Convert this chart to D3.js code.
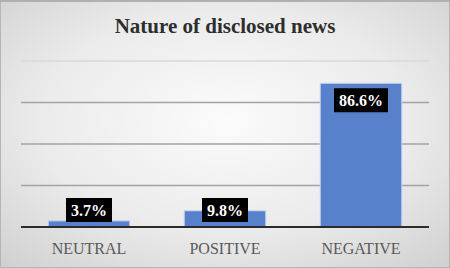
<!DOCTYPE html>
<html>
<head>
<meta charset="utf-8">
<script src="https://cdn.jsdelivr.net/npm/d3@7"></script>
<style>
  html, body { margin: 0; padding: 0; background: #fff; }
  svg { display: block; }
  svg text { font-family: 'Liberation Serif', 'Times New Roman', serif; }
</style>
</head>
<body>
<div id="chart"></div>
<script>
// Chart data
const categories = ['NEUTRAL', 'POSITIVE', 'NEGATIVE'];
const shares = [3.7, 9.8, 86.6];
const yTicks = [0, 25, 50, 75, 100];

const W = 450, H = 268;
const margin = {top: 61, right: 21, bottom: 41, left: 21};
const width = W - margin.left - margin.right;
const height = H - margin.top - margin.bottom;

const svg = d3.select('#chart').append('svg').attr('width', W).attr('height', H);

// background gradient
const defs = svg.append('defs');
const grad = defs.append('radialGradient').attr('id', 'bg')
    .attr('cx', '50%').attr('cy', '45%').attr('r', '75%');
grad.append('stop').attr('offset', '0%').attr('stop-color', '#fbfbfb');
grad.append('stop').attr('offset', '55%').attr('stop-color', '#ebebeb');
grad.append('stop').attr('offset', '100%').attr('stop-color', '#cfcfcf');

svg.append('rect').attr('width', W).attr('height', H).attr('fill', 'url(#bg)');
svg.append('rect').attr('x', 0.5).attr('y', 0.5).attr('width', W - 1).attr('height', H - 1)
    .attr('fill', 'none').attr('stroke', '#b5b5b5').attr('stroke-width', 1);
svg.append('line').attr('x1', 0).attr('x2', W).attr('y1', 1).attr('y2', 1)
    .attr('stroke', '#b0b0b0').attr('stroke-width', 2);

// title
svg.append('text')
    .attr('x', W / 2).attr('y', 33)
    .attr('text-anchor', 'middle')
    .attr('font-family', 'Liberation Serif')
    .attr('font-weight', 'bold')
    .attr('font-size', 21)
    .attr('fill', '#2e2e2e')
    .text('Nature of disclosed news');

const g = svg.append('g').attr('transform', `translate(${margin.left},${margin.top})`);

const x = d3.scaleBand().domain(categories).range([0, width]).paddingInner(0.4).paddingOuter(0.2);
const y = d3.scaleLinear().domain([0, 100]).range([height, 0]);

// gridlines
g.selectAll('.grid')
    .data(yTicks.slice(1))
    .enter().append('line')
    .attr('class', 'grid')
    .attr('x1', 0).attr('x2', width)
    .attr('y1', d => y(d)).attr('y2', d => y(d))
    .attr('stroke', d => d === 100 ? '#d8d8d8' : '#a3a3a3')
    .attr('stroke-width', 1.3);

// bars
g.selectAll('.bar')
    .data(shares)
    .enter().append('rect')
    .attr('class', 'bar')
    .attr('x', (d, i) => x(categories[i]))
    .attr('y', d => y(d))
    .attr('width', x.bandwidth())
    .attr('height', d => height - y(d))
    .attr('fill', '#5782cb')
    .attr('stroke', '#c9d6ee')
    .attr('stroke-width', 1);

// baseline
g.append('line')
    .attr('x1', 0).attr('x2', width)
    .attr('y1', y(0)).attr('y2', y(0))
    .attr('stroke', '#2b2b2b').attr('stroke-width', 2);

// x axis labels
const xAxis = g.append('g')
    .attr('transform', `translate(0,${height})`)
    .call(d3.axisBottom(x).tickSize(0).tickPadding(16));
xAxis.select('.domain').remove();
xAxis.attr('font-family', null).attr('font-size', null);
xAxis.selectAll('text')
    .attr('dy', '0.71em')
    .attr('font-family', 'Liberation Serif')
    .attr('font-size', 16)
    .attr('fill', '#595959');

// data labels
const boxH = 24;
const labels = g.selectAll('.lbl')
    .data(shares)
    .enter().append('g')
    .attr('class', 'lbl')
    .attr('transform', (d, i) => {
        const cx = x(categories[i]) + x.bandwidth() / 2;
        const top = Math.min(y(d) + 5, height - 5 - boxH);
        return `translate(${cx},${top})`;
    });

labels.append('text')
    .attr('x', 0).attr('y', boxH / 2 + 6)
    .attr('text-anchor', 'middle')
    .attr('font-family', 'Liberation Serif')
    .attr('font-weight', 'bold')
    .attr('font-size', 16)
    .attr('fill', '#fff')
    .text(d => d.toFixed(1) + '%');

labels.each(function () {
    const grp = d3.select(this);
    const bb = grp.select('text').node().getBBox();
    grp.insert('rect', 'text')
        .attr('x', -bb.width / 2 - 5).attr('y', 0)
        .attr('width', bb.width + 10).attr('height', boxH)
        .attr('fill', '#000');
});
</script>
</body>
</html>
